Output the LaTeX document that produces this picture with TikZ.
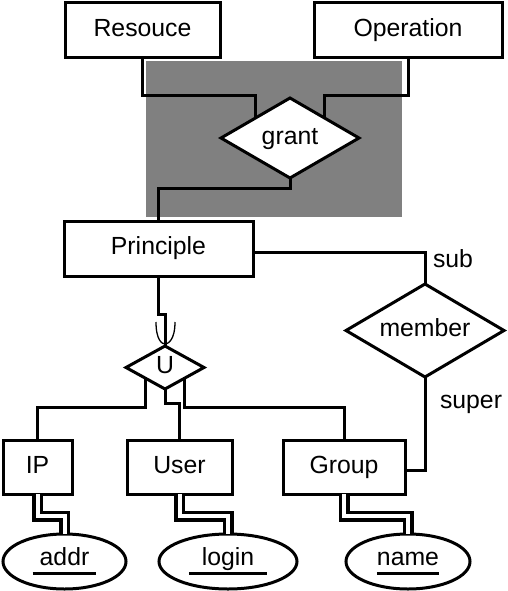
\documentclass[tikz,border=0pt]{standalone}
\usepackage{fontspec}
\setmainfont{Liberation Sans}
\usetikzlibrary{shapes.geometric,calc}
\newcommand{\keyul}[2]{\setbox0\hbox{#2}\leavevmode\rlap{\kern-#1\rule[-9pt]{\dimexpr\wd0+#1+#1\relax}{3pt}}\box0}
\tikzset{
  every node/.style={font=\fontsize{24.8}{28}\selectfont, text height=17pt, text depth=5pt, inner sep=0pt, outer sep=0pt},
  entity/.style={draw, fill=white, rectangle},
  rel/.style={draw, fill=white, diamond},
  attr/.style={draw, fill=white, ellipse, text depth=9pt},
  link/.style={line width=3pt},
  dlink/.style={line width=3.5pt, double, double distance=4pt}
}
\definecolor{grantgrey}{RGB}{128,128,128}
\begin{document}
\begin{tikzpicture}[x=1pt,y=-1pt,line width=3pt]
\useasboundingbox (0,0) rectangle (508,591);
\fill [grantgrey] (146,61) rectangle (402,217);
\node (res) [entity, minimum width=155pt, minimum height=55pt] at (142.5,30.5) {Resouce};
\node (op) [entity, minimum width=188pt, minimum height=55pt] at (408,30.5) {Operation};
\node (grant) [rel, aspect=1.72, minimum width=138pt, minimum height=80pt] at (290,138) {grant};
\node (prin) [entity, minimum width=189pt, minimum height=55pt] at (158.5,248.5) {Principle};
\node (mem) [rel, aspect=1.7, minimum width=158pt, minimum height=93pt] at (425,330.5) {member};
\node (u) [rel, aspect=1.8, minimum width=78pt, minimum height=43pt] at (165,367.5) {U};
\node (ip) [entity, minimum width=69pt, minimum height=54pt] at (37.5,467) {IP};
\node (usr) [entity, minimum width=105pt, minimum height=54pt] at (179.5,467) {User};
\node (grp) [entity, minimum width=122pt, minimum height=54pt] at (344,467) {Group};
\node (addr) [attr, minimum width=123pt, minimum height=55pt] at (64.5,561.5) {\keyul{7pt}{addr}};
\node (login) [attr, minimum width=138pt, minimum height=55pt] at (228,561.5) {\keyul{13pt}{login}};
\node (name) [attr, minimum width=124pt, minimum height=55pt] at (408,561.5) {\keyul{0pt}{name}};
\node (sublbl) [anchor=base west] at (433,267) {sub};
\node (superlbl) [anchor=base west] at (440,408) {super};
\draw [link] (res.south) -- ++(0,38) -| (grant.north west);
\draw [link] (op.south) -- ++(0,38) -| (grant.north east);
\draw [link] (grant.south) -- ++(0,10) -| (prin.north);
\draw [link] ([yshift=-3.5pt]prin.east) -| (mem.north);
\draw [link] (mem.south) |- ([yshift=-3pt]grp.east);
\draw [link] (prin.south) -- ++(0,38) -| (u.north);
\draw [line width=1.3pt] ($(u.north)+(-9,-24)$) .. controls ($(u.north)+(-9,-6)$) and ($(u.north)+(-3,-2)$) .. ($(u.north)+(0,-2)$)
	.. controls ($(u.north)+(3,-2)$) and ($(u.north)+(10,-6)$) .. ($(u.north)+(10,-24)$);
\draw [link] (u.south west) -- ++(0,29) -| (ip.north);
\draw [link] (u.south east) -- ++(0,29) -| (grp.north);
\draw [link] (u.south) -- ++(0,14) -| (usr.north);
\draw [dlink] (ip.south) -- ++(0,22) -| (addr.north);
\draw [dlink] (usr.south) -- ++(0,22) -| (login.north);
\draw [dlink] (grp.south) -- ++(0,22) -| (name.north);
\end{tikzpicture}
\end{document}
